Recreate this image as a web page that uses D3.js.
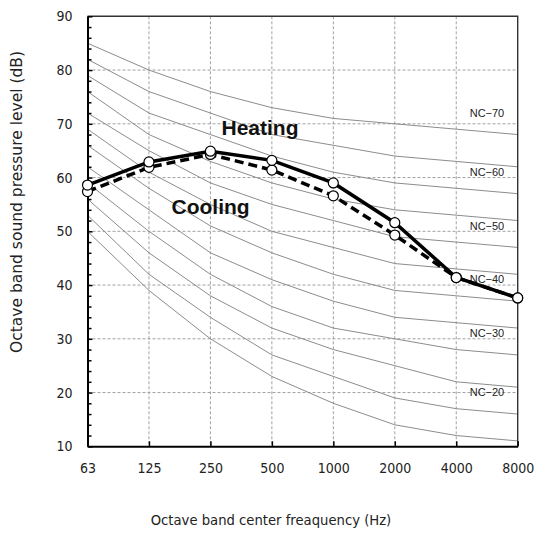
<!DOCTYPE html>
<html>
<head>
<meta charset="utf-8">
<script src="https://cdn.jsdelivr.net/npm/d3@7"></script>
<style>
  body { margin: 0; background: #fff; }
  text { font-family: "DejaVu Sans", sans-serif; }
</style>
</head>
<body>
<div id="chart"></div>
<script>
// octave bands and measured levels
var freqs = ["63", "125", "250", "500", "1000", "2000", "4000", "8000"];
var heating = [58.6, 62.9, 64.9, 63.2, 59.0, 51.6, 41.4, 37.6];
var cooling = [57.4, 61.9, 64.3, 61.4, 56.6, 49.3, 41.4, 37.6];

// NC curves (63 ... 8000 Hz)
var nc15 = [50, 39, 30, 23, 18, 14, 12, 11];
var nc20 = [53, 42, 34, 27, 23, 19, 17, 16];
var nc25 = [56, 46, 38, 32, 28, 25, 22, 21];
var nc30 = [59, 50, 42, 36, 32, 30, 28, 27];
var nc35 = [62, 54, 46, 41, 37, 34, 33, 32];
var nc40 = [66, 58, 51, 46, 42, 39, 38, 37];
var nc45 = [69, 61, 55, 50, 47, 44, 43, 42];
var nc50 = [72, 65, 59, 55, 52, 49, 48, 47];
var nc55 = [76, 68, 63, 59, 56, 54, 53, 52];
var nc60 = [79, 72, 68, 64, 61, 59, 58, 57];
var nc65 = [82, 76, 72, 68, 66, 64, 63, 62];
var nc70 = [85, 80, 76, 73, 71, 70, 69, 68];
var ncCurves = [nc15, nc20, nc25, nc30, nc35, nc40, nc45, nc50, nc55, nc60, nc65, nc70];
var ncNames = ["NC-15", "NC-20", "NC-25", "NC-30", "NC-35", "NC-40", "NC-45", "NC-50", "NC-55", "NC-60", "NC-65", "NC-70"];
var ncShown = ["NC-20", "NC-30", "NC-40", "NC-50", "NC-60", "NC-70"];

var yTicks = [10, 20, 30, 40, 50, 60, 70, 80, 90];

var width = 537, height = 533;
var mLeft = 87.5, mRight = 517.7, mTop = 16.3, mBottom = 446.3;

var svg = d3.select("#chart").append("svg")
  .attr("width", width)
  .attr("height", height);

svg.append("rect").attr("width", width).attr("height", height).attr("fill", "#fff");

var x = d3.scalePoint().domain(freqs).range([mLeft, mRight]);
var y = d3.scaleLinear().domain([10, 90]).range([mBottom, mTop]);

// dashed grid
svg.append("g").selectAll("line")
  .data(freqs.slice(1, -1))
  .enter().append("line")
  .attr("x1", d => x(d)).attr("x2", d => x(d))
  .attr("y1", mTop).attr("y2", mBottom)
  .attr("stroke", "#a0a0a0").attr("stroke-width", 1).attr("stroke-dasharray", "3,2");

svg.append("g").selectAll("line")
  .data(yTicks.slice(1, -1))
  .enter().append("line")
  .attr("x1", mLeft).attr("x2", mRight)
  .attr("y1", d => y(d)).attr("y2", d => y(d))
  .attr("stroke", "#a0a0a0").attr("stroke-width", 1).attr("stroke-dasharray", "3,2");

// NC curves
var ncLine = d3.line()
  .x((d, i) => x(freqs[i]))
  .y(d => y(d));

svg.append("g").selectAll("path")
  .data(ncCurves)
  .enter().append("path")
  .attr("d", ncLine)
  .attr("fill", "none")
  .attr("stroke", "#8c8c8c")
  .attr("stroke-width", 1);

// NC labels, between 4000 and 8000
svg.append("g").selectAll("text")
  .data(ncCurves.filter((c, i) => ncShown.includes(ncNames[i])))
  .enter().append("text")
  .attr("x", (x("4000") + x("8000")) / 2)
  .attr("y", d => y((d[6] + d[7]) / 2) - 15)
  .attr("text-anchor", "middle")
  .style("font-family", "'Liberation Sans', Arial, sans-serif")
  .style("font-size", "11px")
  .attr("fill", "#222")
  .text((d, i) => ncShown[i].replace("-", "\u2212"));

// frame top / right
svg.append("path")
  .attr("d", "M" + mLeft + "," + mTop + "H" + mRight + "V" + mBottom)
  .attr("fill", "none")
  .attr("stroke", "#333")
  .attr("stroke-width", 1.4);

// axes
var yAxis = svg.append("g")
  .attr("transform", "translate(" + mLeft + ",0)")
  .call(d3.axisLeft(y).tickValues(yTicks).tickSize(-5).tickPadding(15).tickSizeOuter(0));

svg.append("g")
  .attr("transform", "translate(" + mLeft + ",0)")
  .call(d3.axisLeft(y).tickValues(d3.range(12, 90, 2).filter(v => v % 10 != 0)).tickSize(-4).tickFormat("").tickSizeOuter(0))
  .call(g => g.select(".domain").remove());

var xAxis = svg.append("g")
  .attr("transform", "translate(0," + mBottom + ")")
  .call(d3.axisBottom(x).tickSize(-5).tickPadding(17).tickSizeOuter(0));

[yAxis, xAxis].forEach(g => {
  g.select(".domain").attr("stroke", "#000").attr("stroke-width", 2);
  g.selectAll(".tick text")
    .style("font-family", "'DejaVu Sans Condensed', 'DejaVu Sans', sans-serif")
    .style("font-size", "14px")
    .attr("fill", "#222");
});
svg.selectAll(".tick line").attr("stroke", "#000").attr("stroke-width", 1.5);

// measured spectra
var dataLine = d3.line()
  .x((d, i) => x(freqs[i]))
  .y(d => y(d));

svg.append("path")
  .datum(cooling)
  .attr("d", dataLine)
  .attr("fill", "none")
  .attr("stroke", "#000")
  .attr("stroke-width", 3.5)
  .attr("stroke-dasharray", "9,5");

svg.append("path")
  .datum(heating)
  .attr("d", dataLine)
  .attr("fill", "none")
  .attr("stroke", "#000")
  .attr("stroke-width", 3.5);

[cooling, heating].forEach(series => {
  svg.append("g").selectAll("circle")
    .data(series)
    .enter().append("circle")
    .attr("cx", (d, i) => x(freqs[i]))
    .attr("cy", d => y(d))
    .attr("r", 5)
    .attr("fill", "#fff")
    .attr("stroke", "#000")
    .attr("stroke-width", 1.2);
});

// series names
svg.append("text")
  .attr("x", 221.5).attr("y", 135)
  .style("font-family", "'Liberation Sans', Arial, sans-serif")
  .style("font-weight", "bold").style("font-size", "21px")
  .attr("fill", "#111")
  .text("Heating");

svg.append("text")
  .attr("x", 171.5).attr("y", 213.5)
  .style("font-family", "'Liberation Sans', Arial, sans-serif")
  .style("font-weight", "bold").style("font-size", "21px")
  .attr("fill", "#111")
  .text("Cooling");

// axis titles
svg.append("text")
  .attr("transform", "translate(22,202) rotate(-90)")
  .attr("text-anchor", "middle")
  .style("font-size", "15.5px")
  .attr("fill", "#222")
  .text("Octave band sound pressure level (dB)");

svg.append("text")
  .attr("x", 271).attr("y", 525)
  .attr("text-anchor", "middle")
  .style("font-size", "13.2px")
  .attr("fill", "#222")
  .text("Octave band center freaquency (Hz)");
</script>
</body>
</html>
